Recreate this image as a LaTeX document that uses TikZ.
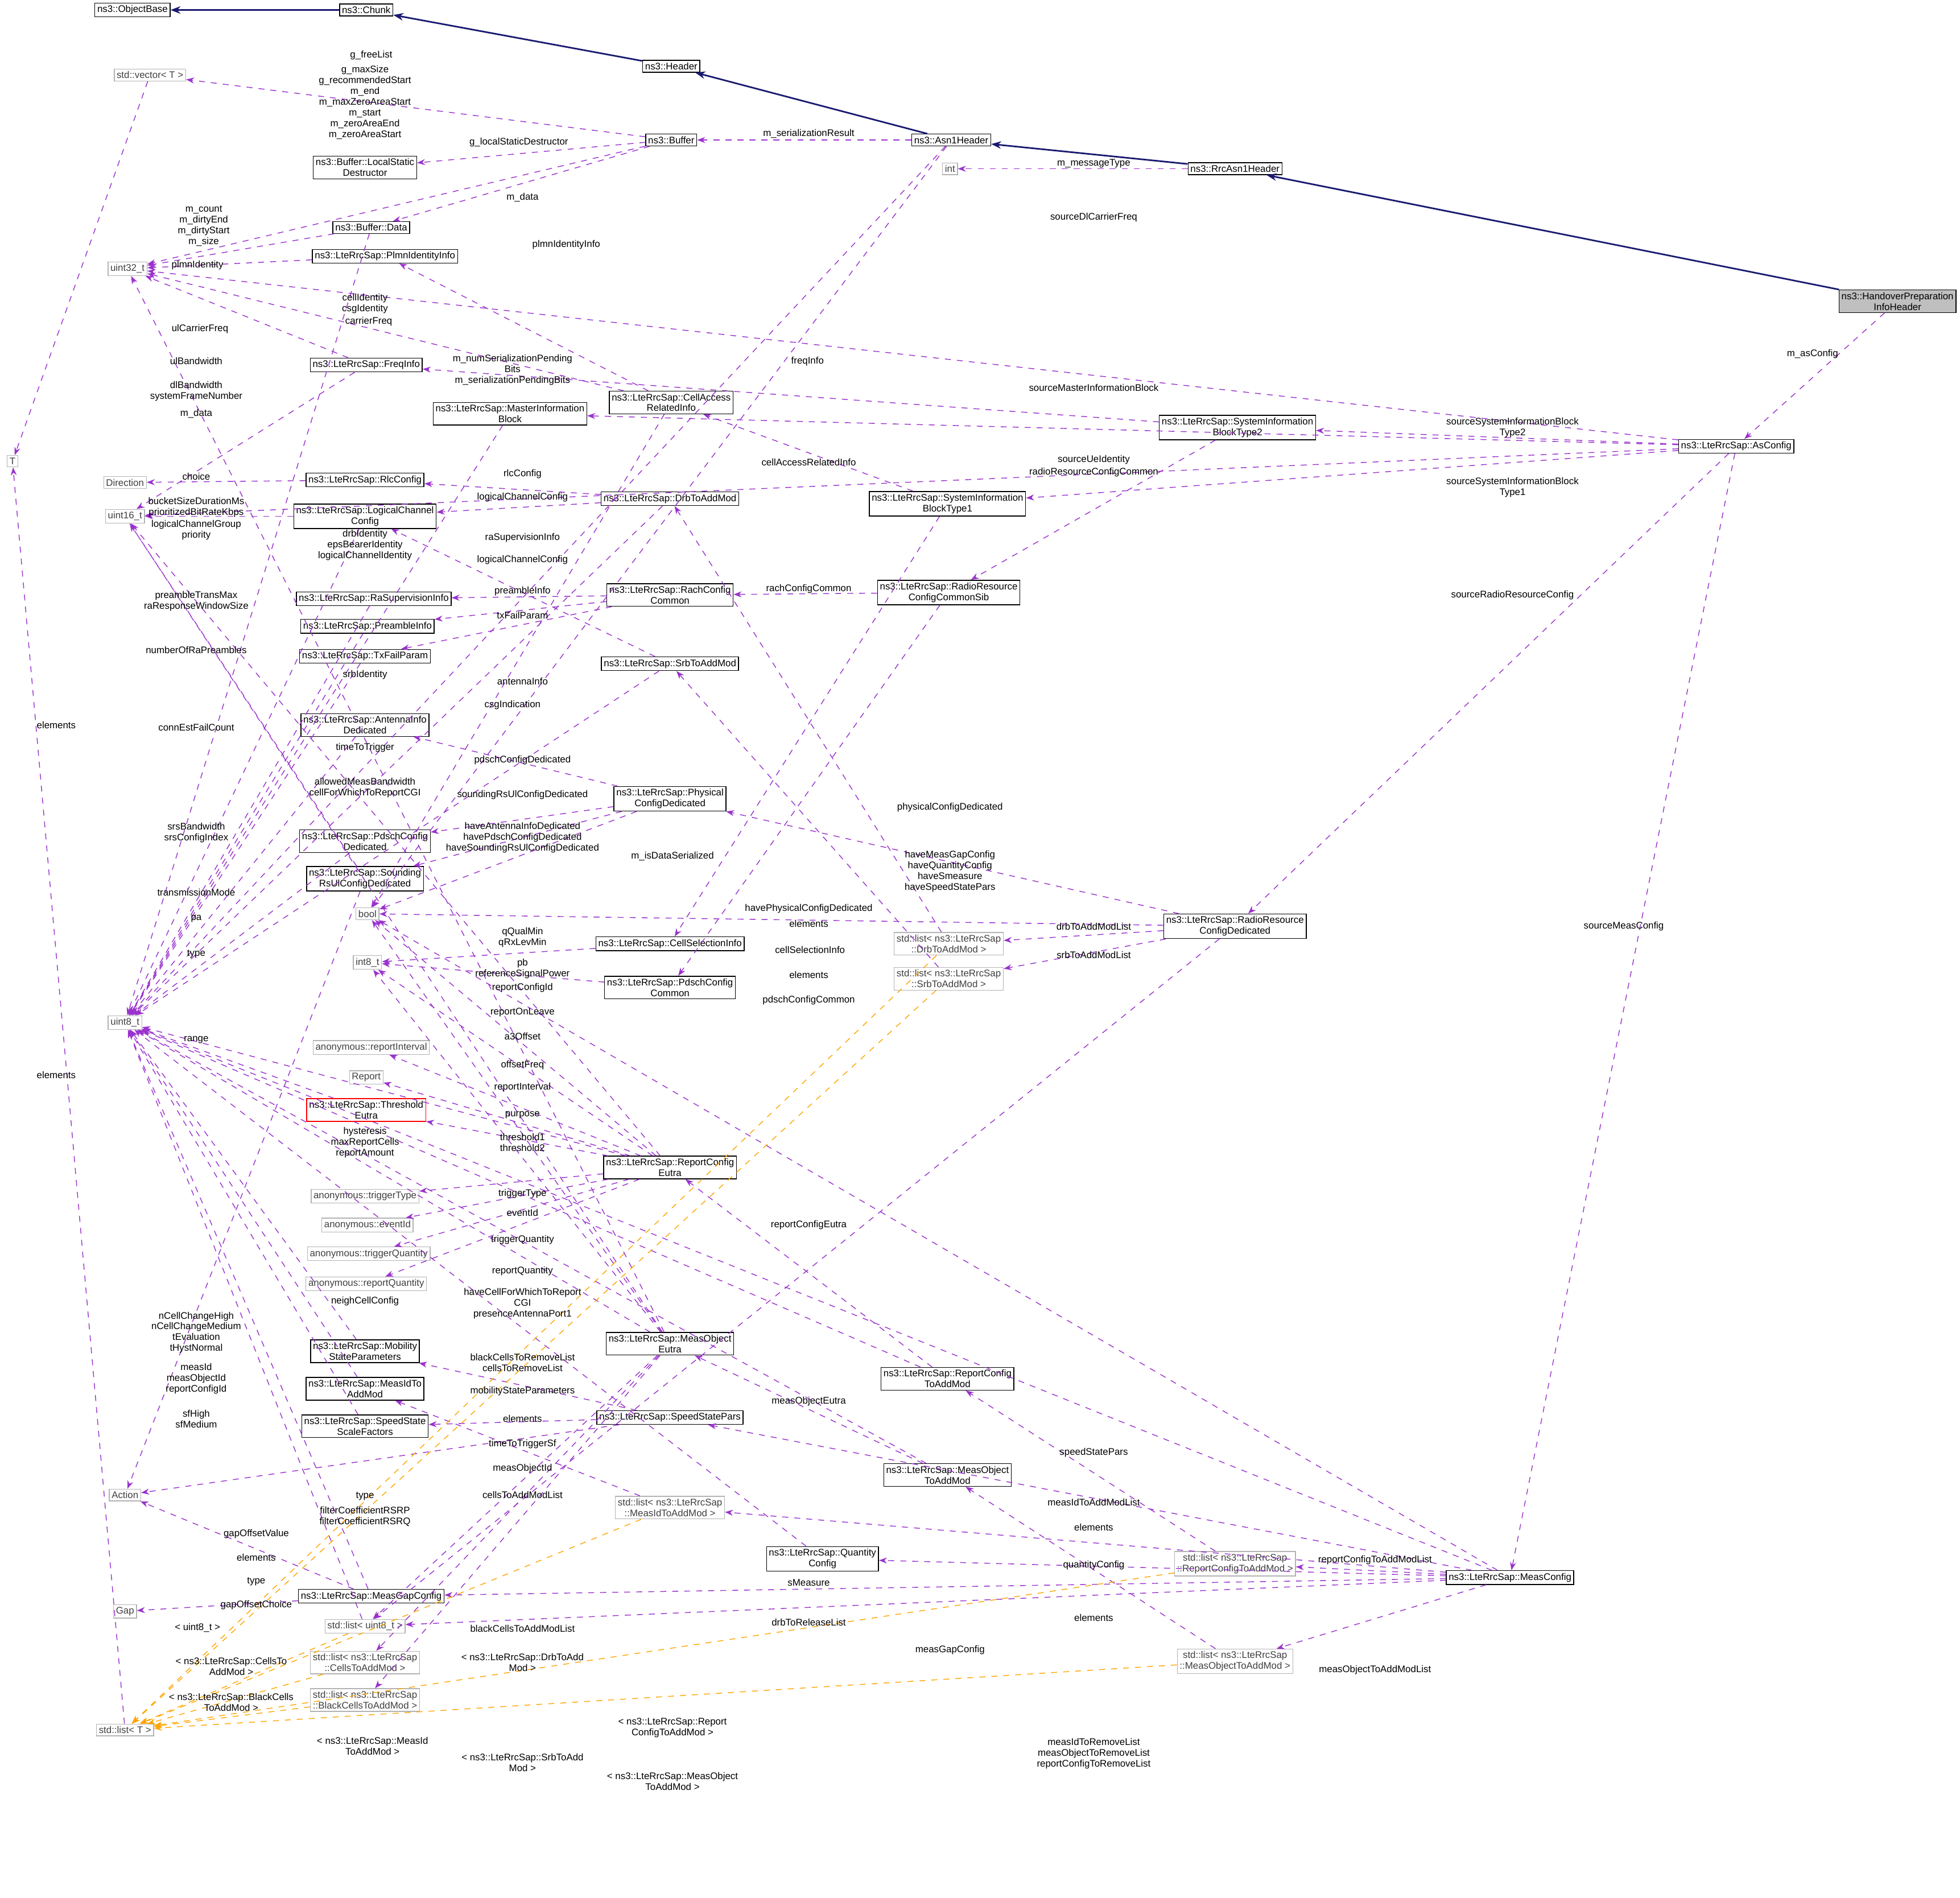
\documentclass[tikz,border=0pt]{standalone}
\usepackage{fontspec}
\setmainfont{Liberation Sans}
\usetikzlibrary{arrows.meta}
\definecolor{dep}{HTML}{9A32CD}
\definecolor{inh}{HTML}{191970}
\definecolor{tpl}{HTML}{FFA500}
\tikzset{
  cls/.style={draw, fill=white, inner sep=1.2pt, align=center, font=\fontsize{4.8}{5.4}\selectfont},
  ext/.style={cls, draw=black!30, text=black!75},
  bad/.style={cls, draw=red},
  sel/.style={cls, fill=black!25},
  lbl/.style={inner sep=0pt, align=center, font=\fontsize{4.8}{5.4}\selectfont},
  use/.style={draw=dep, dashed, -{Stealth[length=4pt]}},
  base/.style={draw=inh, thick, -{Stealth[length=5pt]}},
  inst/.style={draw=tpl, dashed, -{Stealth[length=4pt]}}
}
\begin{document}
\begin{tikzpicture}[x=0.02197cm, y=-0.02197cm]
    \useasboundingbox (0,0) rectangle (1568,1518);
    % classes
    \node[cls] (objbase) at (106,8) {ns3::ObjectBase};
    \node[cls] (chunk) at (293,8) {ns3::Chunk};
    \node[cls] (header) at (537,53) {ns3::Header};
    \node[cls] (buffer) at (537,112) {ns3::Buffer};
    \node[cls] (asn1) at (761,112) {ns3::Asn1Header};
    \node[cls] (rrcasn1) at (988,135) {ns3::RrcAsn1Header};
    \node[sel] (hopinfo) at (1518,241) {ns3::HandoverPreparation\\InfoHeader};
    \node[ext] (vect) at (120,60) {std::vector< T >};
    \node[cls] (lsd) at (292,134) {ns3::Buffer::LocalStatic\\Destructor};
    \node[ext] (int) at (760,135) {int};
    \node[cls] (bufdata) at (297,182) {ns3::Buffer::Data};
    \node[ext] (u32) at (102,215) {uint32\_t};
    \node[cls] (plmn) at (308,205) {ns3::LteRrcSap::PlmnIdentityInfo};
    \node[cls] (freq) at (293,292) {ns3::LteRrcSap::FreqInfo};
    \node[cls] (mib) at (408,331) {ns3::LteRrcSap::MasterInformation\\Block};
    \node[cls] (cari) at (537,322) {ns3::LteRrcSap::CellAccess\\RelatedInfo};
    \node[cls] (sib2) at (990,342) {ns3::LteRrcSap::SystemInformation\\BlockType2};
    \node[cls] (asconf) at (1389,357) {ns3::LteRrcSap::AsConfig};
    \node[ext] (T) at (10,369) {T};
    \node[ext] (dir) at (100,386) {Direction};
    \node[cls] (rlc) at (292,384) {ns3::LteRrcSap::RlcConfig};
    \node[cls] (drb) at (536,399) {ns3::LteRrcSap::DrbToAddMod};
    \node[cls] (sib1) at (758,403) {ns3::LteRrcSap::SystemInformation\\BlockType1};
    \node[ext] (u16) at (100,413) {uint16\_t};
    \node[cls] (lcc) at (292,413) {ns3::LteRrcSap::LogicalChannel\\Config};
    \node[cls] (rasup) at (299,479) {ns3::LteRrcSap::RaSupervisionInfo};
    \node[cls] (rach) at (536,476) {ns3::LteRrcSap::RachConfig\\Common};
    \node[cls] (rrccs) at (759,474) {ns3::LteRrcSap::RadioResource\\ConfigCommonSib};
    \node[cls] (pre) at (294,501) {ns3::LteRrcSap::PreambleInfo};
    \node[cls] (txf) at (292,525) {ns3::LteRrcSap::TxFailParam};
    \node[cls] (srb) at (536,531) {ns3::LteRrcSap::SrbToAddMod};
    \node[cls] (ant) at (292,580) {ns3::LteRrcSap::AntennaInfo\\Dedicated};
    \node[cls] (phys) at (536,639) {ns3::LteRrcSap::Physical\\ConfigDedicated};
    \node[cls] (pdschd) at (292,673) {ns3::LteRrcSap::PdschConfig\\Dedicated};
    \node[cls] (srs) at (292,703) {ns3::LteRrcSap::Sounding\\RsUlConfigDedicated};
    \node[ext] (bool) at (294,731) {bool};
    \node[cls] (rrcd) at (988,741) {ns3::LteRrcSap::RadioResource\\ConfigDedicated};
    \node[ext] (ldrb) at (759,755) {std::list< ns3::LteRrcSap\\::DrbToAddMod >};
    \node[ext] (i8) at (294,770) {int8\_t};
    \node[cls] (csel) at (536,755) {ns3::LteRrcSap::CellSelectionInfo};
    \node[cls] (pdschc) at (536,790) {ns3::LteRrcSap::PdschConfig\\Common};
    \node[ext] (lsrb) at (759,783) {std::list< ns3::LteRrcSap\\::SrbToAddMod >};
    \node[ext] (u8) at (100,818) {uint8\_t};
    \node[ext] (rint) at (297,838) {anonymous::reportInterval};
    \node[ext] (rep) at (293,862) {Report};
    \node[bad] (thr) at (293,888) {ns3::LteRrcSap::Threshold\\Eutra};
    \node[cls] (rce) at (536,934) {ns3::LteRrcSap::ReportConfig\\Eutra};
    \node[ext] (ttype) at (292,957) {anonymous::triggerType};
    \node[ext] (evid) at (294,980) {anonymous::eventId};
    \node[ext] (tq) at (295,1003) {anonymous::triggerQuantity};
    \node[ext] (rq) at (293,1027) {anonymous::reportQuantity};
    \node[cls] (moe) at (536,1075) {ns3::LteRrcSap::MeasObject\\Eutra};
    \node[cls] (msp) at (292,1081) {ns3::LteRrcSap::Mobility\\StateParameters};
    \node[cls] (rcam) at (758,1103) {ns3::LteRrcSap::ReportConfig\\ToAddMod};
    \node[cls] (midam) at (292,1111) {ns3::LteRrcSap::MeasIdTo\\AddMod};
    \node[cls] (ssp) at (536,1134) {ns3::LteRrcSap::SpeedStatePars};
    \node[cls] (sssf) at (292,1141) {ns3::LteRrcSap::SpeedState\\ScaleFactors};
    \node[cls] (moam) at (758,1180) {ns3::LteRrcSap::MeasObject\\ToAddMod};
    \node[ext] (act) at (100,1196) {Action};
    \node[ext] (lmid) at (536,1206) {std::list< ns3::LteRrcSap\\::MeasIdToAddMod >};
    \node[cls] (qc) at (658,1247) {ns3::LteRrcSap::Quantity\\Config};
    \node[ext] (lrc) at (988,1251) {std::list< ns3::LteRrcSap\\::ReportConfigToAddMod >};
    \node[cls] (mc) at (1208,1262) {ns3::LteRrcSap::MeasConfig};
    \node[cls] (mgc) at (297,1277) {ns3::LteRrcSap::MeasGapConfig};
    \node[ext] (gap) at (100,1289) {Gap};
    \node[ext] (lu8) at (292,1301) {std::list< uint8\_t >};
    \node[ext] (lcells) at (292,1330) {std::list< ns3::LteRrcSap\\::CellsToAddMod >};
    \node[ext] (lblack) at (292,1360) {std::list< ns3::LteRrcSap\\::BlackCellsToAddMod >};
    \node[ext] (lmo) at (988,1329) {std::list< ns3::LteRrcSap\\::MeasObjectToAddMod >};
    \node[ext] (lT) at (100,1384) {std::list< T >};

    % inheritance
    \draw[base] (chunk) -- (objbase);
    \draw[base] (header) -- (chunk);
    \draw[base] (asn1) -- (header);
    \draw[base] (rrcasn1) -- (asn1);
    \draw[base] (hopinfo) -- (rrcasn1);

    % members
    \draw[use] (hopinfo) -- (asconf);
    \draw[use] (buffer) -- (vect);
    \draw[use] (buffer) -- (u32);
    \draw[use] (buffer) -- (lsd);
    \draw[use] (buffer) -- (bufdata);
    \draw[use] (asn1) -- (buffer);
    \draw[use] (rrcasn1) -- (int);
    \draw[use] (bufdata) -- (u32);
    \draw[use] (bufdata) -- (u8);
    \draw[use] (plmn) -- (u32);
    \draw[use] (cari) -- (plmn);
    \draw[use] (cari) -- (u32);
    \draw[use] (cari) -- (bool);
    \draw[use] (freq) -- (u32);
    \draw[use] (freq) -- (u16);
    \draw[use] (sib2) -- (freq);
    \draw[use] (sib2) -- (rrccs);
    \draw[use] (asconf) -- (u32);
    \draw[use] (asconf) -- (mib);
    \draw[use] (asconf) -- (sib2);
    \draw[use] (asconf) -- (u16);
    \draw[use] (asconf) -- (sib1);
    \draw[use] (asconf) -- (rrcd);
    \draw[use] (asconf) -- (mc);
    \draw[use] (mib) -- (u8);
    \draw[use] (asn1) -- (u8);
    \draw[use] (asn1) -- (bool);
    \draw[use] (rlc) -- (dir);
    \draw[use] (drb) -- (rlc);
    \draw[use] (drb) -- (lcc);
    \draw[use] (drb) -- (u8);
    \draw[use] (lcc) -- (u16);
    \draw[use] (lcc) -- (u8);
    \draw[use] (sib1) -- (cari);
    \draw[use] (sib1) -- (csel);
    \draw[use] (rach) -- (rasup);
    \draw[use] (rach) -- (pre);
    \draw[use] (rach) -- (txf);
    \draw[use] (rrccs) -- (rach);
    \draw[use] (rrccs) -- (pdschc);
    \draw[use] (rasup) -- (u8);
    \draw[use] (pre) -- (u8);
    \draw[use] (txf) -- (u8);
    \draw[use] (srb) -- (lcc);
    \draw[use] (srb) -- (u8);
    \draw[use] (phys) -- (ant);
    \draw[use] (phys) -- (pdschd);
    \draw[use] (phys) -- (srs);
    \draw[use] (phys) -- (bool);
    \draw[use] (ant) -- (u8);
    \draw[use] (pdschd) -- (u8);
    \draw[use] (srs) -- (u16);
    \draw[use] (srs) -- (act);
    \draw[use] (rrcd) -- (phys);
    \draw[use] (rrcd) -- (bool);
    \draw[use] (rrcd) -- (ldrb);
    \draw[use] (rrcd) -- (lsrb);
    \draw[use] (rrcd) -- (lu8);
    \draw[use] (ldrb) -- (drb);
    \draw[use] (lsrb) -- (srb);
    \draw[use] (csel) -- (i8);
    \draw[use] (pdschc) -- (i8);
    \draw[use] (rce) -- (bool);
    \draw[use] (rce) -- (i8);
    \draw[use] (rce) -- (rint);
    \draw[use] (rce) -- (rep);
    \draw[use] (rce) -- (thr);
    \draw[use] (rce) -- (u8);
    \draw[use] (rce) -- (ttype);
    \draw[use] (rce) -- (evid);
    \draw[use] (rce) -- (tq);
    \draw[use] (rce) -- (rq);
    \draw[use] (rce) -- (u16);
    \draw[use] (thr) -- (u8);
    \draw[use] (moe) -- (u8);
    \draw[use] (moe) -- (bool);
    \draw[use] (moe) -- (u16);
    \draw[use] (moe) -- (i8);
    \draw[use] (moe) -- (u32);
    \draw[use] (moe) -- (lu8);
    \draw[use] (moe) -- (lcells);
    \draw[use] (moe) -- (lblack);
    \draw[use] (rcam) -- (rce);
    \draw[use] (rcam) -- (u8);
    \draw[use] (moam) -- (moe);
    \draw[use] (moam) -- (u8);
    \draw[use] (msp) -- (u8);
    \draw[use] (midam) -- (u8);
    \draw[use] (sssf) -- (u8);
    \draw[use] (ssp) -- (msp);
    \draw[use] (ssp) -- (sssf);
    \draw[use] (ssp) -- (act);
    \draw[use] (lmid) -- (midam);
    \draw[use] (qc) -- (u8);
    \draw[use] (mc) -- (qc);
    \draw[use] (mc) -- (lrc);
    \draw[use] (mc) -- (lmo);
    \draw[use] (mc) -- (lmid);
    \draw[use] (mc) -- (ssp);
    \draw[use] (mc) -- (bool);
    \draw[use] (mc) -- (u8);
    \draw[use] (mc) -- (mgc);
    \draw[use] (mc) -- (lu8);
    \draw[use] (lrc) -- (rcam);
    \draw[use] (lmo) -- (moam);
    \draw[use] (mgc) -- (u8);
    \draw[use] (mgc) -- (act);
    \draw[use] (mgc) -- (gap);
    \draw[use] (lu8) -- (u8);
    \draw[use] (lT) -- (T);
    \draw[use] (vect) -- (T);

    % template instances
    \draw[inst] (lu8) -- (lT);
    \draw[inst] (lcells) -- (lT);
    \draw[inst] (lblack) -- (lT);
    \draw[inst] (lmid) -- (lT);
    \draw[inst] (ldrb) -- (lT);
    \draw[inst] (lsrb) -- (lT);
    \draw[inst] (lrc) -- (lT);
    \draw[inst] (lmo) -- (lT);

    % labels
    \node[lbl] (l1) at (1450,283) {m\_asConfig};
    \node[lbl] (l2) at (297,44) {g\_freeList};
    \node[lbl] (l3) at (292,82) {g\_maxSize\\g\_recommendedStart\\m\_end\\m\_maxZeroAreaStart\\m\_start\\m\_zeroAreaEnd\\m\_zeroAreaStart};
    \node[lbl] (l4) at (415,114) {g\_localStaticDestructor};
    \node[lbl] (l5) at (418,158) {m\_data};
    \node[lbl] (l6) at (647,107) {m\_serializationResult};
    \node[lbl] (l7) at (875,131) {m\_messageType};
    \node[lbl] (l8) at (163,181) {m\_count\\m\_dirtyEnd\\m\_dirtyStart\\m\_size};
    \node[lbl] (l9) at (157,331) {m\_data};
    \node[lbl] (l10) at (158,212) {plmnIdentity};
    \node[lbl] (l11) at (453,196) {plmnIdentityInfo};
    \node[lbl] (l12) at (292,243) {cellIdentity\\csgIdentity};
    \node[lbl] (l13) at (410,564) {csgIndication};
    \node[lbl] (l14) at (160,263) {ulCarrierFreq};
    \node[lbl] (l15) at (157,289) {ulBandwidth};
    \node[lbl] (l16) at (646,289) {freqInfo};
    \node[lbl] (l17) at (875,378) {radioResourceConfigCommon};
    \node[lbl] (l18) at (875,174) {sourceDlCarrierFreq};
    \node[lbl] (l19) at (875,310) {sourceMasterInformationBlock};
    \node[lbl] (l20) at (1210,342) {sourceSystemInformationBlock\\Type2};
    \node[lbl] (l21) at (875,368) {sourceUeIdentity};
    \node[lbl] (l22) at (1210,390) {sourceSystemInformationBlock\\Type1};
    \node[lbl] (l23) at (1210,476) {sourceRadioResourceConfig};
    \node[lbl] (l24) at (1299,741) {sourceMeasConfig};
    \node[lbl] (l25) at (157,313) {dlBandwidth\\systemFrameNumber};
    \node[lbl] (l26) at (410,296) {m\_numSerializationPending\\Bits\\m\_serializationPendingBits};
    \node[lbl] (l27) at (538,685) {m\_isDataSerialized};
    \node[lbl] (l28) at (157,381) {choice};
    \node[lbl] (l29) at (418,379) {rlcConfig};
    \node[lbl] (l30) at (418,398) {logicalChannelConfig};
    \node[lbl] (l31) at (292,436) {drbIdentity\\epsBearerIdentity\\logicalChannelIdentity};
    \node[lbl] (l32) at (157,406) {bucketSizeDurationMs\\prioritizedBitRateKbps};
    \node[lbl] (l33) at (157,424) {logicalChannelGroup\\priority};
    \node[lbl] (l34) at (647,370) {cellAccessRelatedInfo};
    \node[lbl] (l35) at (648,760) {cellSelectionInfo};
    \node[lbl] (l36) at (418,430) {raSupervisionInfo};
    \node[lbl] (l37) at (418,473) {preambleInfo};
    \node[lbl] (l38) at (418,492) {txFailParam};
    \node[lbl] (l39) at (647,471) {rachConfigCommon};
    \node[lbl] (l40) at (647,800) {pdschConfigCommon};
    \node[lbl] (l41) at (157,481) {preambleTransMax\\raResponseWindowSize};
    \node[lbl] (l42) at (157,520) {numberOfRaPreambles};
    \node[lbl] (l43) at (157,582) {connEstFailCount};
    \node[lbl] (l44) at (418,448) {logicalChannelConfig};
    \node[lbl] (l45) at (292,540) {srbIdentity};
    \node[lbl] (l46) at (418,545) {antennaInfo};
    \node[lbl] (l47) at (418,608) {pdschConfigDedicated};
    \node[lbl] (l48) at (418,636) {soundingRsUlConfigDedicated};
    \node[lbl] (l49) at (418,670) {haveAntennaInfoDedicated\\havePdschConfigDedicated\\haveSoundingRsUlConfigDedicated};
    \node[lbl] (l50) at (157,714) {transmissionMode};
    \node[lbl] (l51) at (157,735) {pa};
    \node[lbl] (l52) at (157,666) {srsBandwidth\\srsConfigIndex};
    \node[lbl] (l53) at (157,763) {type};
    \node[lbl] (l54) at (760,646) {physicalConfigDedicated};
    \node[lbl] (l55) at (647,727) {havePhysicalConfigDedicated};
    \node[lbl] (l56) at (875,741) {drbToAddModList};
    \node[lbl] (l57) at (875,764) {srbToAddModList};
    \node[lbl] (l58) at (647,1298) {drbToReleaseList};
    \node[lbl] (l59) at (647,739) {elements};
    \node[lbl] (l60) at (647,780) {elements};
    \node[lbl] (l61) at (418,750) {qQualMin\\qRxLevMin};
    \node[lbl] (l62) at (418,775) {pb\\referenceSignalPower};
    \node[lbl] (l63) at (418,810) {reportOnLeave};
    \node[lbl] (l64) at (418,829) {a3Offset};
    \node[lbl] (l65) at (418,852) {offsetFreq};
    \node[lbl] (l66) at (418,870) {reportInterval};
    \node[lbl] (l67) at (418,892) {purpose};
    \node[lbl] (l68) at (418,914) {threshold1\\threshold2};
    \node[lbl] (l69) at (292,914) {hysteresis\\maxReportCells\\reportAmount};
    \node[lbl] (l70) at (418,955) {triggerType};
    \node[lbl] (l71) at (418,970) {eventId};
    \node[lbl] (l72) at (418,992) {triggerQuantity};
    \node[lbl] (l73) at (418,1017) {reportQuantity};
    \node[lbl] (l74) at (292,598) {timeToTrigger};
    \node[lbl] (l75) at (157,832) {range};
    \node[lbl] (l76) at (292,1041) {neighCellConfig};
    \node[lbl] (l77) at (418,1043) {haveCellForWhichToReport\\CGI\\presenceAntennaPort1};
    \node[lbl] (l78) at (292,630) {allowedMeasBandwidth\\cellForWhichToReportCGI};
    \node[lbl] (l79) at (295,257) {carrierFreq};
    \node[lbl] (l80) at (418,1090) {blackCellsToRemoveList\\cellsToRemoveList};
    \node[lbl] (l81) at (418,1196) {cellsToAddModList};
    \node[lbl] (l82) at (418,1303) {blackCellsToAddModList};
    \node[lbl] (l83) at (647,980) {reportConfigEutra};
    \node[lbl] (l84) at (418,790) {reportConfigId};
    \node[lbl] (l85) at (647,1121) {measObjectEutra};
    \node[lbl] (l86) at (418,1175) {measObjectId};
    \node[lbl] (l87) at (157,1066) {nCellChangeHigh\\nCellChangeMedium\\tEvaluation\\tHystNormal};
    \node[lbl] (l88) at (157,1103) {measId\\measObjectId\\reportConfigId};
    \node[lbl] (l89) at (157,1135) {sfHigh\\sfMedium};
    \node[lbl] (l90) at (418,1113) {mobilityStateParameters};
    \node[lbl] (l91) at (418,1155) {timeToTriggerSf};
    \node[lbl] (l92) at (292,1197) {type};
    \node[lbl] (l93) at (418,1135) {elements};
    \node[lbl] (l94) at (292,1213) {filterCoefficientRSRP\\filterCoefficientRSRQ};
    \node[lbl] (l95) at (875,1252) {quantityConfig};
    \node[lbl] (l96) at (1100,1248) {reportConfigToAddModList};
    \node[lbl] (l97) at (1100,1336) {measObjectToAddModList};
    \node[lbl] (l98) at (875,1202) {measIdToAddModList};
    \node[lbl] (l99) at (875,1162) {speedStatePars};
    \node[lbl] (l100) at (760,697) {haveMeasGapConfig\\haveQuantityConfig\\haveSmeasure\\haveSpeedStatePars};
    \node[lbl] (l101) at (647,1266) {sMeasure};
    \node[lbl] (l102) at (760,1320) {measGapConfig};
    \node[lbl] (l103) at (875,1403) {measIdToRemoveList\\measObjectToRemoveList\\reportConfigToRemoveList};
    \node[lbl] (l104) at (875,1222) {elements};
    \node[lbl] (l105) at (875,1294) {elements};
    \node[lbl] (l106) at (205,1227) {gapOffsetValue};
    \node[lbl] (l107) at (205,1265) {type};
    \node[lbl] (l108) at (205,1284) {gapOffsetChoice};
    \node[lbl] (l109) at (205,1246) {elements};
    \node[lbl] (l110) at (45,860) {elements};
    \node[lbl] (l111) at (45,580) {elements};
    \node[lbl] (l112) at (158,1302) {< uint8\_t >};
    \node[lbl] (l113) at (185,1333) {< ns3::LteRrcSap::CellsTo\\AddMod >};
    \node[lbl] (l114) at (185,1362) {< ns3::LteRrcSap::BlackCells\\ToAddMod >};
    \node[lbl] (l115) at (298,1397) {< ns3::LteRrcSap::MeasId\\ToAddMod >};
    \node[lbl] (l116) at (418,1330) {< ns3::LteRrcSap::DrbToAdd\\Mod >};
    \node[lbl] (l117) at (418,1410) {< ns3::LteRrcSap::SrbToAdd\\Mod >};
    \node[lbl] (l118) at (538,1382) {< ns3::LteRrcSap::Report\\ConfigToAddMod >};
    \node[lbl] (l119) at (538,1425) {< ns3::LteRrcSap::MeasObject\\ToAddMod >};
\end{tikzpicture}
\end{document}
